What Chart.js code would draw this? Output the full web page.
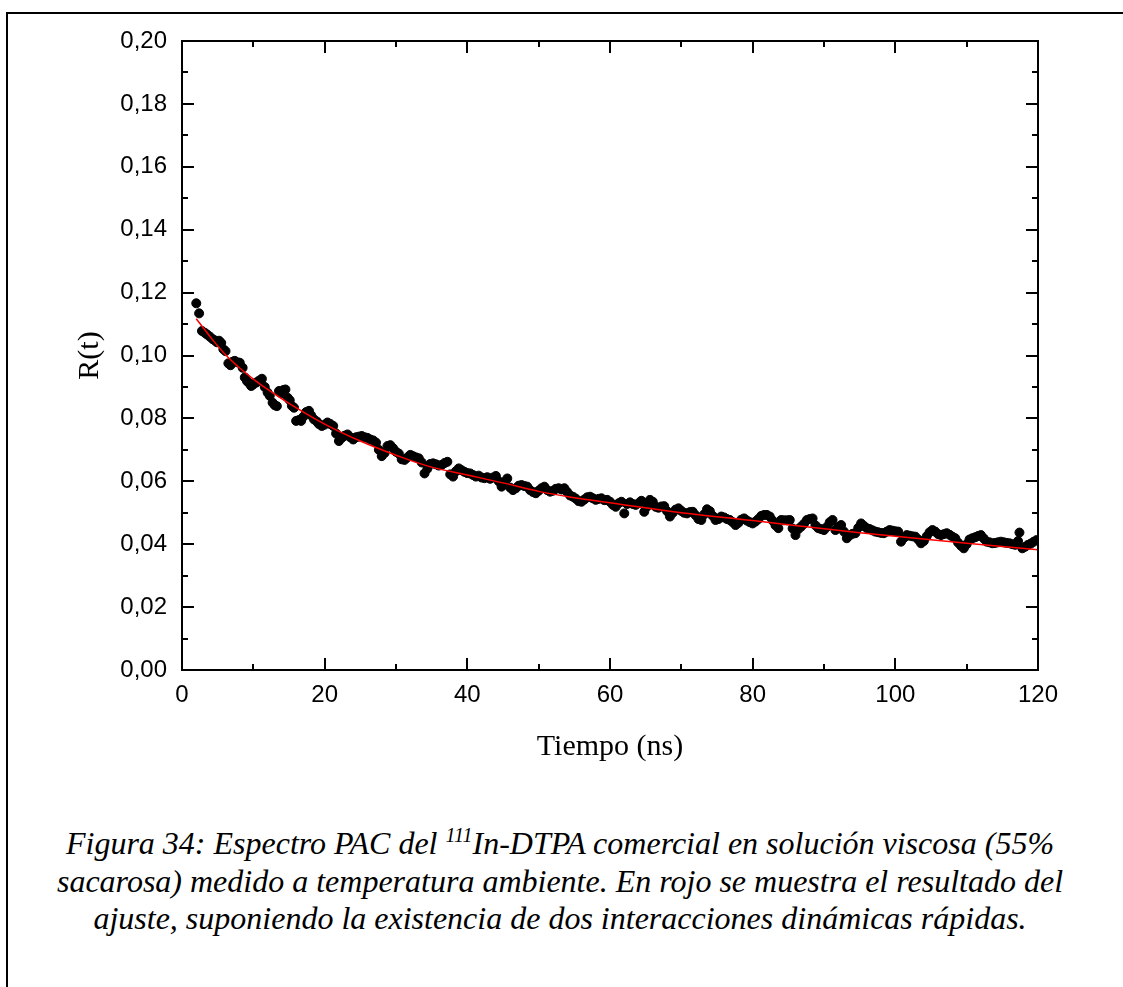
<!DOCTYPE html>
<html>
<head>
<meta charset="utf-8">
<script src="https://cdn.jsdelivr.net/npm/chart.js@4"></script>
<style>
    body { margin: 0; background: #fff; }
    #page { position: relative; width: 1123px; height: 987px; overflow: hidden; }
    #frame { position: absolute; left: 6px; top: 12px; width: 1200px; height: 1100px; border-left: 2px solid #000; border-top: 2px solid #000; }
    #chartBox { position: absolute; left: 0; top: 0; width: 1123px; height: 780px; }
    #caption { position: absolute; left: 20px; top: 825px; width: 1080px; text-align: center;
        font-family: "Liberation Serif", "Times New Roman", serif; font-style: italic; font-size: 32px; line-height: 37.5px; }
    #caption sup { font-size: 20px; line-height: 0; }
</style>
</head>
<body>
<div id="page">
    <div id="frame"></div>
    <div id="chartBox"><canvas id="pacChart" width="1123" height="780"></canvas></div>
    <div id="caption">Figura 34: Espectro PAC del <sup>111</sup>In-DTPA comercial en solución viscosa (55%<br>sacarosa) medido a temperatura ambiente. En rojo se muestra el resultado del<br>ajuste, suponiendo la existencia de dos interacciones dinámicas rápidas.</div>
</div>
<script>
const timeNs = [
    2.0, 2.4, 2.8, 3.2, 3.5, 3.9, 4.3, 4.6, 4.9, 5.2, 5.5, 5.8, 6.1, 6.5, 6.8, 7.1, 7.4, 7.8, 8.1, 8.5,
    8.8, 9.1, 9.4, 9.7, 10.0, 10.4, 10.8, 11.2, 11.6, 12.0, 12.3, 12.7, 13.0, 13.3, 13.6, 13.9, 14.2, 14.5, 14.8, 15.1,
    15.4, 15.7, 16.0, 16.4, 16.7, 17.0, 17.4, 17.8, 18.1, 18.5, 18.9, 19.2, 19.6, 20.0, 20.4, 20.8, 21.2, 21.6, 22.0, 22.4,
    22.8, 23.2, 23.6, 24.0, 24.4, 24.8, 25.2, 25.6, 26.0, 26.4, 26.8, 27.2, 27.6, 28.0, 28.4, 28.8, 29.2, 29.6, 30.0,
    30.4, 30.8, 31.2, 31.6, 32.0, 32.4, 32.8, 33.2, 33.6, 34.0, 34.4, 34.8, 35.2, 35.6, 36.0, 36.4, 36.8, 37.2, 37.6, 38.0,
    38.4, 38.8, 39.2, 39.6, 40.0, 40.4, 40.8, 41.2, 41.6, 42.0, 42.4, 42.8, 43.2, 43.6, 44.0, 44.4, 44.8, 45.2, 45.6, 46.0,
    46.4, 46.8, 47.2, 47.6, 48.0, 48.4, 48.8, 49.2, 49.6, 50.0, 50.4, 50.8, 51.2, 51.6, 52.0, 52.4, 52.8, 53.2, 53.6, 54.0,
    54.4, 54.8, 55.2, 55.6, 56.0, 56.4, 56.8, 57.2, 57.6, 58.0,
    58.4, 58.8, 59.2, 59.6, 60.0, 60.4, 60.8, 61.2, 61.6, 62.0, 62.4, 62.8, 63.2, 63.6, 64.0, 64.4, 64.8, 65.2, 65.6, 66.0,
    66.4, 66.8, 67.2, 67.6, 68.0, 68.4, 68.8, 69.2, 69.6, 70.0, 70.4, 70.8, 71.2, 71.6, 72.0, 72.4, 72.8, 73.2, 73.6, 74.0,
    74.4, 74.8, 75.2, 75.6, 76.0, 76.4, 76.8, 77.2, 77.6, 78.0, 78.4, 78.8, 79.2, 79.6, 80.0, 80.4, 80.8, 81.2, 81.6, 82.0,
    82.4, 82.8, 83.2, 83.6, 84.0, 84.4, 84.8, 85.2, 85.6, 86.0, 86.4, 86.8, 87.2, 87.6, 88.0,
    88.4, 88.8, 89.2, 89.6, 90.0, 90.4, 90.8, 91.2, 91.6, 92.0, 92.4, 92.8, 93.2, 93.6, 94.0, 94.4, 94.8, 95.2, 95.6, 96.0,
    96.4, 96.8, 97.2, 97.6, 98.0, 98.4, 98.8, 99.2, 99.6, 100.0, 100.4, 100.8, 101.2, 101.6, 102.0, 102.4, 102.8, 103.2, 103.6, 104.0,
    104.4, 104.8, 105.2, 105.6, 106.0, 106.4, 106.8, 107.2, 107.6, 108.0, 108.4, 108.8, 109.2, 109.6, 110.0, 110.4, 110.8, 111.2, 111.6, 112.0,
    112.4, 112.8, 113.2, 113.6, 114.0, 114.4, 114.8, 115.2, 115.6, 116.0, 116.4, 116.8, 117.2, 117.4, 117.8, 118.2, 118.6, 119.0, 119.4, 119.8
]
const rValues = [
    0.1166, 0.1134, 0.1078, 0.1072, 0.1067, 0.1060, 0.1052, 0.1048, 0.1042, 0.1047, 0.1040, 0.1020, 0.1014, 0.0975, 0.0969, 0.0980, 0.0983, 0.0978, 0.0977, 0.0961,
    0.0930, 0.0919, 0.0912, 0.0903, 0.0908, 0.0914, 0.0920, 0.0926, 0.0900, 0.0882, 0.0872, 0.0850, 0.0842, 0.0839, 0.0887, 0.0880, 0.0890, 0.0892, 0.0866, 0.0858,
    0.0840, 0.0834, 0.0792, 0.0795, 0.0792, 0.0805, 0.0820, 0.0824, 0.0810, 0.0797, 0.0790, 0.0782, 0.0776, 0.0780, 0.0787, 0.0782, 0.0776, 0.0752, 0.0728, 0.0738,
    0.0745, 0.0749, 0.0740, 0.0733, 0.0740, 0.0742, 0.0744, 0.0740, 0.0738, 0.0733, 0.0730, 0.0723, 0.0700, 0.0680, 0.0690, 0.0712, 0.0715, 0.0705, 0.0694,
    0.0688, 0.0670, 0.0668, 0.0676, 0.0684, 0.0680, 0.0676, 0.0673, 0.0660, 0.0625, 0.0640, 0.0655, 0.0657, 0.0654, 0.0650, 0.0652, 0.0658, 0.0662, 0.0622, 0.0615,
    0.0632, 0.0641, 0.0635, 0.0630, 0.0626, 0.0625, 0.0620, 0.0615, 0.0618, 0.0612, 0.0610, 0.0613, 0.0608, 0.0612, 0.0617, 0.0600, 0.0583, 0.0598, 0.0609, 0.0580,
    0.0572, 0.0578, 0.0586, 0.0588, 0.0585, 0.0583, 0.0572, 0.0566, 0.0562, 0.0570, 0.0578, 0.0583, 0.0572, 0.0567, 0.0570, 0.0576, 0.0578, 0.0574, 0.0578, 0.0566,
    0.0555, 0.0551, 0.0545, 0.0537, 0.0535, 0.0542, 0.0549, 0.0551, 0.0546, 0.0541,
    0.0544, 0.0546, 0.0540, 0.0541, 0.0535, 0.0525, 0.0519, 0.0530, 0.0535, 0.0498, 0.0528, 0.0533, 0.0528, 0.0525, 0.0530, 0.0538, 0.0503, 0.0520, 0.0541, 0.0535,
    0.0519, 0.0516, 0.0520, 0.0521, 0.0505, 0.0488, 0.0500, 0.0510, 0.0514, 0.0506, 0.0500, 0.0498, 0.0502, 0.0503, 0.0492, 0.0480, 0.0477, 0.0495, 0.0511, 0.0505,
    0.0490, 0.0477, 0.0480, 0.0488, 0.0485, 0.0480, 0.0477, 0.0470, 0.0461, 0.0468, 0.0478, 0.0482, 0.0475, 0.0470, 0.0466, 0.0472, 0.0480, 0.0490, 0.0493, 0.0493,
    0.0488, 0.0475, 0.0460, 0.0451, 0.0477, 0.0476, 0.0476, 0.0477, 0.0450, 0.0429, 0.0448, 0.0456, 0.0465, 0.0477, 0.0480,
    0.0482, 0.0460, 0.0451, 0.0448, 0.0445, 0.0455, 0.0470, 0.0477, 0.0445, 0.0455, 0.0461, 0.0440, 0.0419, 0.0428, 0.0433, 0.0435, 0.0452, 0.0466, 0.0458, 0.0451,
    0.0448, 0.0444, 0.0440, 0.0438, 0.0436, 0.0435, 0.0440, 0.0445, 0.0443, 0.0441, 0.0440, 0.0408, 0.0420, 0.0429, 0.0427, 0.0425, 0.0424, 0.0415, 0.0403, 0.0410,
    0.0425, 0.0438, 0.0445, 0.0440, 0.0432, 0.0429, 0.0432, 0.0435, 0.0430, 0.0424, 0.0419, 0.0405, 0.0395, 0.0387, 0.0400, 0.0415, 0.0419, 0.0422, 0.0426, 0.0429,
    0.0418, 0.0408, 0.0406, 0.0403, 0.0404, 0.0406, 0.0408, 0.0406, 0.0404, 0.0403, 0.0400, 0.0398, 0.0410, 0.0437, 0.0387, 0.0392, 0.0398, 0.0402, 0.0408, 0.0413
]

// fit curve (red), read at a few times
const fitTimeNs = [2, 4, 6, 8, 10, 12, 15, 20, 25, 30, 35, 40, 45, 50, 55, 60, 70, 80, 90, 100, 110, 120]
const fitValues = [0.1117, 0.1058, 0.1005, 0.0962, 0.0925, 0.0892, 0.0848, 0.0782, 0.0728, 0.0683, 0.0645, 0.0620, 0.0595, 0.0568, 0.0548, 0.0532, 0.0500, 0.0475, 0.0449, 0.0425, 0.0403, 0.0382]

const xTicks = [0, 20, 40, 60, 80, 100, 120]
const yTicks = [0, 0.02, 0.04, 0.06, 0.08, 0.10, 0.12, 0.14, 0.16, 0.18, 0.20]

const tickFont = { family: "'Liberation Sans', Arial, sans-serif", size: 24 }
const titleFont = { family: "'Liberation Serif', 'Times New Roman', serif", size: 30 }

function toPoints(xs, ys) {
    return xs.map((x, i) => ({ x: x, y: ys[i] }))
}

// box round the plot with inward ticks (major + minor) on all four sides
const frameTicks = {
    id: 'frameTicks',
    afterDraw(chart) {
        const ctx = chart.ctx
        const { left, right, top, bottom } = chart.chartArea
        const xs = chart.scales.x
        const ys = chart.scales.y
        ctx.save()
        ctx.strokeStyle = '#000'
        ctx.lineWidth = 2
        ctx.strokeRect(left, top, right - left, bottom - top)
        ctx.beginPath()
        for (let t = 0; t <= 120; t += 10) {
            const px = Math.round(xs.getPixelForValue(t))
            const len = t % 20 === 0 ? 12 : 6
            ctx.moveTo(px, bottom); ctx.lineTo(px, bottom - len)
            ctx.moveTo(px, top); ctx.lineTo(px, top + len)
        }
        for (let k = 0; k <= 20; k++) {
            const py = Math.round(ys.getPixelForValue(k / 100))
            const len = k % 2 === 0 ? 12 : 6
            ctx.moveTo(left, py); ctx.lineTo(left + len, py)
            ctx.moveTo(right, py); ctx.lineTo(right - len, py)
        }
        ctx.stroke()
        ctx.restore()
    }
}

function drawChart() {
    new Chart('pacChart', {
        type: 'scatter',
        data: {
            datasets: [{
                data: toPoints(timeNs, rValues),
                backgroundColor: '#000',
                borderColor: '#000',
                pointRadius: 4.5,
                pointHoverRadius: 4.5,
                order: 2
            }, {
                type: 'line',
                data: toPoints(fitTimeNs, fitValues),
                borderColor: '#ff0000',
                borderWidth: 1.5,
                pointRadius: 0,
                tension: 0.4,
                fill: false,
                order: 1
            }]
        },
        options: {
            responsive: false,
            animation: false,
            layout: { padding: { left: 0, top: 41, right: 85, bottom: 0 } },
            plugins: { legend: { display: false }, tooltip: { enabled: false } },
            scales: {
                x: {
                    type: 'linear', min: 0, max: 120,
                    afterBuildTicks: s => { s.ticks = xTicks.map(v => ({ value: v })) },
                    afterFit: s => { s.height = 110 },
                    grid: { display: false, drawTicks: false },
                    border: { display: false },
                    ticks: { color: '#000', font: tickFont, padding: 11, maxRotation: 0 },
                    title: { display: true, text: 'Tiempo (ns)', color: '#000', font: titleFont, padding: { top: 0, bottom: 15 } }
                },
                y: {
                    type: 'linear', min: 0, max: 0.2,
                    afterBuildTicks: s => { s.ticks = yTicks.map(v => ({ value: v })) },
                    afterFit: s => { s.width = 182 },
                    grid: { display: false, drawTicks: false },
                    border: { display: false },
                    ticks: { color: '#000', font: tickFont, padding: 15, callback: v => v.toFixed(2).replace('.', ',') },
                    title: { display: true, text: 'R(t)', color: '#000', font: titleFont, padding: { top: 72, bottom: 0 } }
                }
            }
        },
        plugins: [frameTicks]
    })
}

drawChart()
</script>
</body>
</html>
